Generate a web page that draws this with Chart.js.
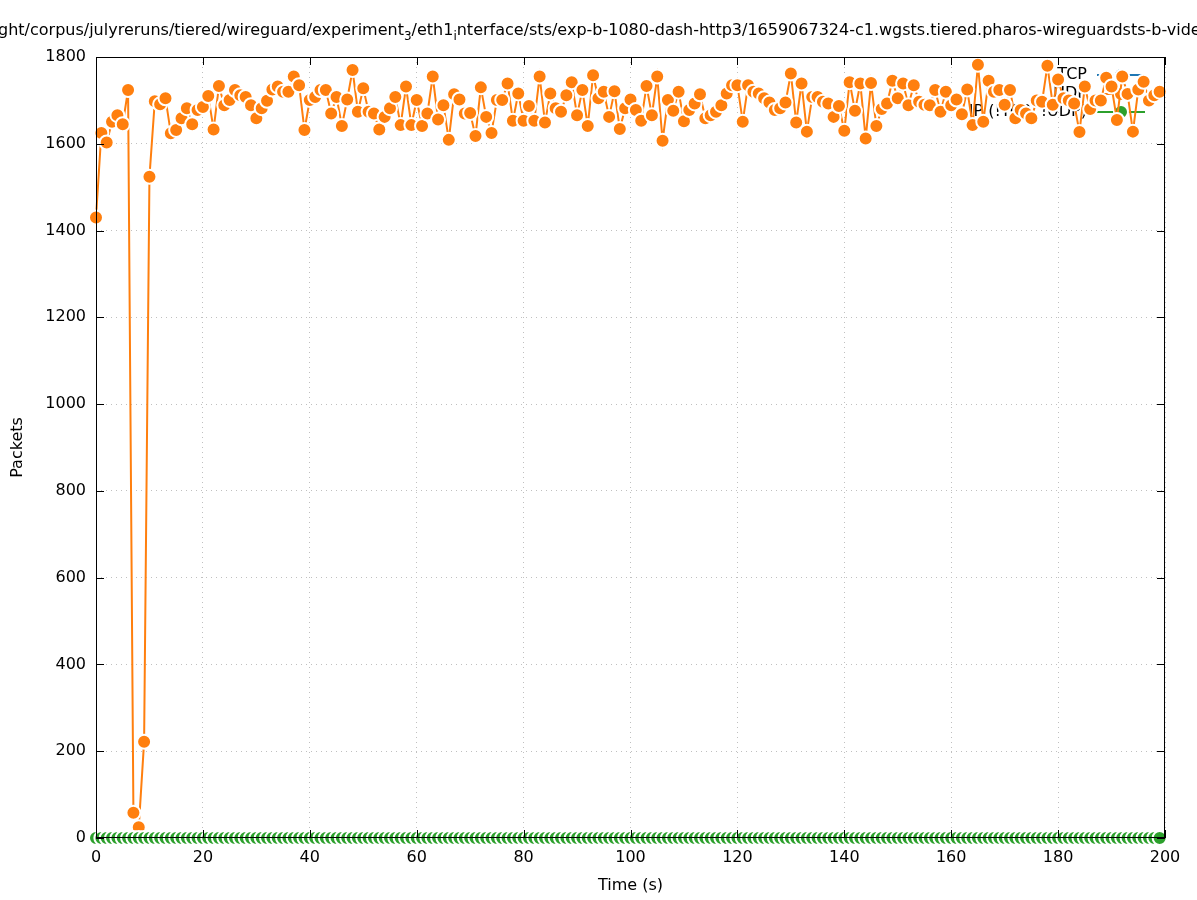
<!DOCTYPE html>
<html>
<head>
<meta charset="utf-8">
<script src="https://cdn.jsdelivr.net/npm/chart.js@4/dist/chart.umd.min.js"></script>
<style>
  html, body { margin: 0; padding: 0; background: #fff; }
  canvas { display: block; }
</style>
</head>
<body>
<canvas id="chart" width="1197" height="900"></canvas>
<script>
// Packet counts per second
const times = [
  0, 1, 2, 3, 4, 5, 6, 7, 8, 9,
  10, 11, 12, 13, 14, 15, 16, 17, 18, 19,
  20, 21, 22, 23, 24, 25, 26, 27, 28, 29,
  30, 31, 32, 33, 34, 35, 36, 37, 38, 39,
  40, 41, 42, 43, 44, 45, 46, 47, 48, 49,
  50, 51, 52, 53, 54, 55, 56, 57, 58, 59,
  60, 61, 62, 63, 64, 65, 66, 67, 68, 69,
  70, 71, 72, 73, 74, 75, 76, 77, 78, 79,
  80, 81, 82, 83, 84, 85, 86, 87, 88, 89,
  90, 91, 92, 93, 94, 95, 96, 97, 98, 99,
  100, 101, 102, 103, 104, 105, 106, 107, 108, 109,
  110, 111, 112, 113, 114, 115, 116, 117, 118, 119,
  120, 121, 122, 123, 124, 125, 126, 127, 128, 129,
  130, 131, 132, 133, 134, 135, 136, 137, 138, 139,
  140, 141, 142, 143, 144, 145, 146, 147, 148, 149,
  150, 151, 152, 153, 154, 155, 156, 157, 158, 159,
  160, 161, 162, 163, 164, 165, 166, 167, 168, 169,
  170, 171, 172, 173, 174, 175, 176, 177, 178, 179,
  180, 181, 182, 183, 184, 185, 186, 187, 188, 189,
  190, 191, 192, 193, 194, 195, 196, 197, 198, 199
];

const tcpPackets = [
  0, 0, 0, 0, 0, 0, 0, 0, 0, 0,  0, 0, 0, 0, 0, 0, 0, 0, 0, 0,
  0, 0, 0, 0, 0, 0, 0, 0, 0, 0,  0, 0, 0, 0, 0, 0, 0, 0, 0, 0,
  0, 0, 0, 0, 0, 0, 0, 0, 0, 0,  0, 0, 0, 0, 0, 0, 0, 0, 0, 0,
  0, 0, 0, 0, 0, 0, 0, 0, 0, 0,  0, 0, 0, 0, 0, 0, 0, 0, 0, 0,
  0, 0, 0, 0, 0, 0, 0, 0, 0, 0,  0, 0, 0, 0, 0, 0, 0, 0, 0, 0,
  0, 0, 0, 0, 0, 0, 0, 0, 0, 0,  0, 0, 0, 0, 0, 0, 0, 0, 0, 0,
  0, 0, 0, 0, 0, 0, 0, 0, 0, 0,  0, 0, 0, 0, 0, 0, 0, 0, 0, 0,
  0, 0, 0, 0, 0, 0, 0, 0, 0, 0,  0, 0, 0, 0, 0, 0, 0, 0, 0, 0,
  0, 0, 0, 0, 0, 0, 0, 0, 0, 0,  0, 0, 0, 0, 0, 0, 0, 0, 0, 0,
  0, 0, 0, 0, 0, 0, 0, 0, 0, 0,  0, 0, 0, 0, 0, 0, 0, 0, 0, 0
];

const udpPackets = [
  1430, 1625, 1603, 1651, 1666, 1645, 1724, 58, 25, 222,
  1524, 1698, 1691, 1705, 1624, 1632, 1659, 1682, 1645, 1678,
  1685, 1710, 1633, 1733, 1689, 1701, 1724, 1712, 1708, 1689,
  1659, 1682, 1699, 1725, 1732, 1720, 1720, 1755, 1735, 1632,
  1701, 1708, 1724, 1724, 1670, 1708, 1641, 1702, 1770, 1674,
  1728, 1674, 1670, 1633, 1662, 1682, 1708, 1643, 1732, 1643,
  1701, 1641, 1670, 1755, 1656, 1689, 1609, 1714, 1702, 1670,
  1671, 1618, 1730, 1662, 1625, 1701, 1701, 1739, 1653, 1716,
  1653, 1687, 1653, 1755, 1649, 1716, 1682, 1674, 1712, 1742,
  1666, 1724, 1641, 1758, 1705, 1720, 1662, 1721, 1634, 1682,
  1702, 1678, 1653, 1733, 1666, 1755, 1607, 1701, 1676, 1720,
  1652, 1678, 1693, 1714, 1659, 1666, 1674, 1689, 1716, 1735,
  1735, 1651, 1735, 1720, 1716, 1705, 1695, 1678, 1682, 1695,
  1762, 1649, 1739, 1628, 1708, 1708, 1697, 1693, 1662, 1687,
  1630, 1742, 1676, 1739, 1612, 1740, 1641, 1680, 1693, 1745,
  1705, 1739, 1689, 1735, 1697, 1690, 1689, 1724, 1674, 1720,
  1689, 1702, 1668, 1725, 1643, 1782, 1651, 1745, 1720, 1724,
  1690, 1724, 1659, 1678, 1670, 1659, 1700, 1697, 1780, 1690,
  1748, 1705, 1700, 1693, 1627, 1732, 1680, 1700, 1700, 1752,
  1732, 1655, 1755, 1715, 1628, 1725, 1743, 1700, 1712, 1720
];

const ipPackets = [
  0, 0, 0, 0, 0, 0, 0, 0, 0, 0,  0, 0, 0, 0, 0, 0, 0, 0, 0, 0,
  0, 0, 0, 0, 0, 0, 0, 0, 0, 0,  0, 0, 0, 0, 0, 0, 0, 0, 0, 0,
  0, 0, 0, 0, 0, 0, 0, 0, 0, 0,  0, 0, 0, 0, 0, 0, 0, 0, 0, 0,
  0, 0, 0, 0, 0, 0, 0, 0, 0, 0,  0, 0, 0, 0, 0, 0, 0, 0, 0, 0,
  0, 0, 0, 0, 0, 0, 0, 0, 0, 0,  0, 0, 0, 0, 0, 0, 0, 0, 0, 0,
  0, 0, 0, 0, 0, 0, 0, 0, 0, 0,  0, 0, 0, 0, 0, 0, 0, 0, 0, 0,
  0, 0, 0, 0, 0, 0, 0, 0, 0, 0,  0, 0, 0, 0, 0, 0, 0, 0, 0, 0,
  0, 0, 0, 0, 0, 0, 0, 0, 0, 0,  0, 0, 0, 0, 0, 0, 0, 0, 0, 0,
  0, 0, 0, 0, 0, 0, 0, 0, 0, 0,  0, 0, 0, 0, 0, 0, 0, 0, 0, 0,
  0, 0, 0, 0, 0, 0, 0, 0, 0, 0,  0, 0, 0, 0, 0, 0, 0, 0, 0, 0
];

const xTicks = [0, 20, 40, 60, 80, 100, 120, 140, 160, 180, 200];
const yTicks = [0, 200, 400, 600, 800, 1000, 1200, 1400, 1600, 1800];

// title pieces: [text, isSubscript]
const titleParts = [
  ['ght/corpus/julyreruns/tiered/wireguard/experiment', false],
  ['3', true],
  ['/eth1', false],
  ['i', true],
  ['nterface/sts/exp-b-1080-dash-http3/1659067324-c1.wgsts.tiered.pharos-wireguardsts-b-vide', false]
];

const FONT = '"DejaVu Sans", sans-serif';
const BLUE = '#1f77b4', ORANGE = '#ff7f0e', GREEN = '#2ca02c';
const PT_R = 7, PT_BW = 2;

function series(values) {
  return times.map((t, i) => ({ x: t, y: values[i] }));
}

function dataset(label, values, color, order) {
  return {
    label: label,
    data: series(values),
    borderColor: color,
    backgroundColor: color,
    borderWidth: 2,
    pointRadius: PT_R,
    pointBorderWidth: PT_BW,
    pointBorderColor: '#fff',
    pointBackgroundColor: color,
    tension: 0,
    clip: false,
    order: order
  };
}

function drawPoint(ctx, x, y, color) {
  ctx.beginPath();
  ctx.arc(x, y, PT_R, 0, Math.PI * 2);
  ctx.fillStyle = color;
  ctx.fill();
  ctx.lineWidth = PT_BW;
  ctx.strokeStyle = '#fff';
  ctx.stroke();
}

// gnuplot-ish decorations: title, axis labels, key behind data, frame + inward ticks
const decorations = {
  id: 'decorations',
  beforeDatasetsDraw(chart) {
    const ctx = chart.ctx;
    ctx.save();
    ctx.font = '16px ' + FONT;
    ctx.textAlign = 'right';
    ctx.textBaseline = 'middle';
    const rows = [['TCP', BLUE, 75], ['UDP', ORANGE, 94], ['IP (!TCP, !UDP)', GREEN, 112]];
    rows.forEach(([text, color, y]) => {
      ctx.fillStyle = '#000';
      ctx.fillText(text, 1087, y);
      ctx.strokeStyle = color;
      ctx.lineWidth = 2;
      ctx.beginPath();
      ctx.moveTo(1097, y);
      ctx.lineTo(1145, y);
      ctx.stroke();
      drawPoint(ctx, 1121, y, color);
    });
    ctx.restore();
  },
  afterDatasetsDraw(chart) {
    const ctx = chart.ctx;
    const { left, right, top, bottom } = chart.chartArea;
    const xs = chart.scales.x, ys = chart.scales.y;
    ctx.save();
    ctx.strokeStyle = '#000';
    ctx.lineWidth = 1;
    ctx.strokeRect(left + 0.5, top + 0.5, right - left - 1, bottom - top - 1);
    ctx.beginPath();
    yTicks.forEach(v => {
      const py = Math.round(ys.getPixelForValue(v)) + 0.5;
      ctx.moveTo(left, py); ctx.lineTo(left + 8, py);
      ctx.moveTo(right - 8, py); ctx.lineTo(right, py);
    });
    xTicks.forEach(v => {
      const px = Math.round(xs.getPixelForValue(v)) + 0.5;
      ctx.moveTo(px, bottom); ctx.lineTo(px, bottom - 8);
      ctx.moveTo(px, top); ctx.lineTo(px, top + 8);
    });
    ctx.stroke();

    // axis titles
    ctx.fillStyle = '#000';
    ctx.font = '16px ' + FONT;
    ctx.textAlign = 'center';
    ctx.textBaseline = 'middle';
    ctx.fillText('Time (s)', (left + right) / 2, 886);
    ctx.translate(18, (top + bottom) / 2);
    ctx.rotate(-Math.PI / 2);
    ctx.fillText('Packets', 0, 0);
    ctx.restore();

    // title with subscripts
    ctx.save();
    ctx.fillStyle = '#000';
    ctx.textAlign = 'left';
    ctx.textBaseline = 'alphabetic';
    let x = -2;
    titleParts.forEach(([text, sub]) => {
      ctx.font = (sub ? '12px ' : '16px ') + FONT;
      ctx.fillText(text, x, sub ? 40 : 35);
      x += ctx.measureText(text).width;
    });
    ctx.restore();
  }
};

new Chart(document.getElementById('chart'), {
  type: 'line',
  data: {
    datasets: [
      dataset('TCP', tcpPackets, BLUE, 3),
      dataset('UDP', udpPackets, ORANGE, 2),
      dataset('IP (!TCP, !UDP)', ipPackets, GREEN, 1)
    ]
  },
  options: {
    responsive: false,
    animation: false,
    events: [],
    layout: { padding: { top: 57, right: 32, left: 0, bottom: 0 } },
    plugins: {
      legend: { display: false },
      title: { display: false },
      tooltip: { enabled: false }
    },
    scales: {
      x: {
        type: 'linear',
        min: 0,
        max: 200,
        afterBuildTicks: s => { s.ticks = xTicks.map(v => ({ value: v })); },
        afterFit: s => { s.height = 62; },
        grid: { color: '#c0c0c0', lineWidth: 1, drawTicks: false },
        border: { display: false, dash: [1, 4] },
        ticks: { color: '#000', font: { family: FONT, size: 16 }, padding: 10, maxRotation: 0, autoSkip: false, callback: v => String(v) }
      },
      y: {
        type: 'linear',
        min: 0,
        max: 1800,
        afterBuildTicks: s => { s.ticks = yTicks.map(v => ({ value: v })); },
        afterFit: s => { s.width = 96; },
        grid: { color: '#c0c0c0', lineWidth: 1, drawTicks: false },
        border: { display: false, dash: [1, 4] },
        ticks: { color: '#000', font: { family: FONT, size: 16 }, padding: 10, autoSkip: false, callback: v => String(v) }
      }
    }
  },
  plugins: [decorations]
});
</script>
</body>
</html>
